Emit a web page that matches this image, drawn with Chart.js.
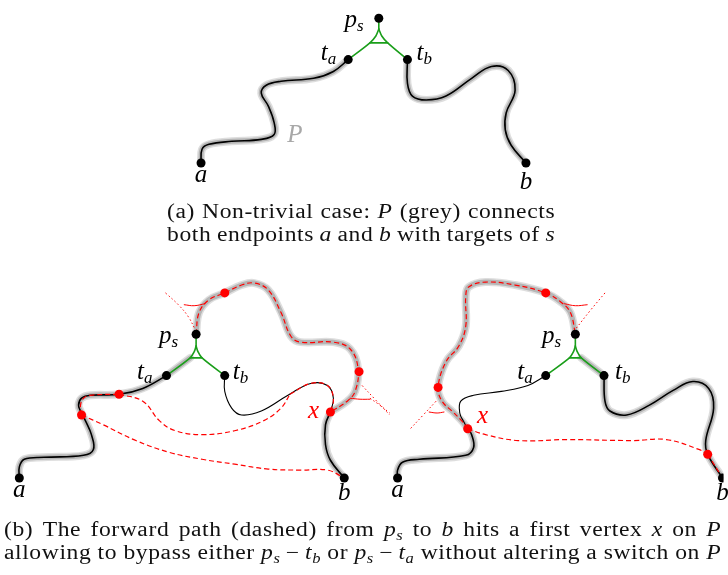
<!DOCTYPE html>
<html><head><meta charset="utf-8">
<script src="https://cdn.jsdelivr.net/npm/chart.js@4"></script>
<style>
html,body{margin:0;padding:0;background:#fff;}
#wrap{position:relative;width:728px;height:575px;overflow:hidden;}
canvas{position:absolute;left:0;top:0;}
.cap{position:absolute;font-family:"Liberation Serif",serif;font-size:20px;color:#111;line-height:22.5px;letter-spacing:0.5px;transform:scaleX(1.18);transform-origin:0 0;}
.cap > div{display:flex;justify-content:space-between;white-space:nowrap;}
.cap i{font-style:italic;}
.cap sub{font-size:14px;vertical-align:-4px;line-height:0;}
</style></head>
<body><div id="wrap"><canvas id="c" width="728" height="575"></canvas>
<div class="cap" style="left:167px;top:200px;width:329px;">
<div><span>(a)</span><span>Non-trivial</span><span>case:</span><span><i>P</i></span><span>(grey)</span><span>connects</span></div>
<div><span>both</span><span>endpoints</span><span><i>a</i></span><span>and</span><span><i>b</i></span><span>with</span><span>targets</span><span>of</span><span><i>s</i></span></div>
</div>
<div class="cap" style="left:4px;top:518px;width:608px;">
<div><span>(b)</span><span>The</span><span>forward</span><span>path</span><span>(dashed)</span><span>from</span><span><i>p</i><sub><i>s</i></sub></span><span>to</span><span><i>b</i></span><span>hits</span><span>a</span><span>first</span><span>vertex</span><span><i>x</i></span><span>on</span><span><i>P</i></span></div>
<div><span>allowing</span><span>to</span><span>bypass</span><span>either</span><span><i>p</i><sub><i>s</i></sub>&thinsp;−&thinsp;<i>t</i><sub><i>b</i></sub></span><span>or</span><span><i>p</i><sub><i>s</i></sub>&thinsp;−&thinsp;<i>t</i><sub><i>a</i></sub></span><span>without</span><span>altering</span><span>a</span><span>switch</span><span>on</span><span><i>P</i></span></div>
</div>
</div>
<script>
// ---------- Panel (a) ----------
const aPathLeft = [[199,161],[200,147],[207,142],[230,139],[260,137],[273,132],[273,120],[267,103],[260,90],[265,82],[280,78],[313,75],[333,68],[348,56]];
const aPathRight = [[408,56],[408,80],[413,93],[427,97],[447,93],[473,75],[493,63],[510,67],[517,87],[508,110],[507,127],[513,143],[528,161]];
const aSwitchLeft = [[348,56],[370,39],[376,32],[379,25]];
const aSwitchRight = [[408,56],[388,39],[382,32],[379,25]];
const aSwitchStem = [[379,14],[379,25]];
const aSwitchBar = [[370,39],[388,39]];
const aVertices = [[379,14],[348,56],[408,56],[199,161],[528,161]];

// ---------- Panel (b), left ----------
const bLPathA = [[15,481],[15,470],[20,462],[40,460],[80,458],[90,452],[88,437],[82,423],[77,413],[75,407],[78,400],[87,397],[116,396],[140,390],[164,377]];
const bLLoop = [[194,335],[197,313],[207,300],[223,293],[240,285],[253,283],[267,290],[280,313],[290,337],[300,343],[333,343],[350,350],[358,370],[355,393],[347,403],[330,414]];
const bLXtoB = [[330,414],[325,427],[325,447],[330,463],[344,481]];
const bLTb = [[223,377],[223,393],[230,410],[240,417],[260,413],[287,397],[310,385],[327,387],[333,400],[330,414]];
const bLFwd1 = [[116,396],[140,403],[157,423],[173,433],[200,437],[233,433],[262,423],[280,410],[289,396]];
const bLFwd1b = [[289,396],[310,385],[327,387],[333,400],[330,414]];
const bLFwd2 = [[78,417],[100,427],[133,443],[167,455],[200,462],[233,467],[267,472],[300,473],[327,473],[344,481]];
const bLFwdP = [[78,417],[77,407],[80,400],[87,397],[116,396]];
const bLDot1 = [[163,293],[176,305],[186,317],[193,330]];
const bLDot2 = [[362,387],[376,402],[390,417]];
const bLMark1 = [[182,305],[192,306],[203,304]];
const bLMark2 = [[350,400],[360,401],[370,401]];
const bLSwitchLeft = [[164,377],[188,359],[192,353],[194,347]];
const bLSwitchRight = [[223,377],[200,359],[196,353],[194,347]];
const bLSwitchStem = [[194,335],[194,347]];
const bLSwitchBar = [[188,359],[200,359]];
const bLVertices = [[194,335],[164,377],[223,377],[15,481],[344,481]];
const bLRed = [[223,293],[359,373],[116,396],[78,417],[330,414]];

// ---------- Panel (b), right ----------
const bRPathA = [[398,481],[398,473],[403,465],[420,462],[467,458],[475,450],[473,437],[469,431]];
const bRLoop = [[469,431],[463,423],[453,413],[443,403],[439,389],[447,363],[460,347],[467,327],[467,297],[470,287],[487,282],[517,285],[548,293],[563,302],[573,313],[578,335]];
const bRPathB = [[607,377],[608,403],[613,413],[630,417],[653,407],[677,392],[697,383],[713,390],[718,410],[710,443],[712,457],[727,481]];
const bRTa = [[548,377],[530,387],[503,393],[475,397],[462,403],[461,415],[465,424],[469,431]];
const bRFwd = [[469,431],[487,437],[520,443],[570,442],[637,443],[670,442],[703,452],[712,457]];
const bRFwdEnd = [[712,457],[727,481]];
const bRDot1 = [[608,293],[593,311],[578,330]];
const bRDot2 = [[370,400],[380,407],[390,415]];
const bRDot3 = [[437,403],[424,417],[410,432]];
const bRMark1 = [[567,304],[578,306],[590,305]];
const bRMark2 = [[430,414],[438,415],[445,414]];
const bRSwitchLeft = [[548,377],[572,359],[576,353],[578,347]];
const bRSwitchRight = [[607,377],[584,359],[580,353],[578,347]];
const bRSwitchStem = [[578,335],[578,347]];
const bRSwitchBar = [[572,359],[584,359]];
const bRVertices = [[578,335],[548,377],[607,377],[398,481],[727,481]];
const bRRed = [[548,293],[439,389],[712,457],[469,431]];

// ---------- Labels ----------
const labelText = [
  ['p','s',354,16,'k'],['t','a',328,50,'k'],['t','b',425,50,'k'],['P','',294,133,'g'],['a','',199,174,'k'],['b','',528,181,'k'],
  ['p','s',166,337,'k'],['t','a',142,374,'k'],['t','b',239,374,'k'],['x','',313,413,'r'],['a','',15,494,'k'],['b','',344,497,'k'],
  ['p','s',554,337,'k'],['t','a',527,374,'k'],['t','b',626,374,'k'],['x','',484,418,'r'],['a','',398,494,'k'],['b','',727,497,'k']
];

const HALO_OUT='rgba(195,195,195,0.55)', HALO_IN='rgba(165,165,165,0.7)', BLACK='#000', RED='#f00', GREEN='#1a9e1a';
const pts = arr => arr.map(p=>({x:p[0],y:p[1]}));
const ds = [];
function line(arr, color, width, opts={}) {
  ds.push(Object.assign({data:pts(arr),showLine:true,borderColor:color,borderWidth:width,pointRadius:0,tension:0.4,fill:false,borderCapStyle:'round',borderJoinStyle:'round'},opts));
}
const haloPaths=[aPathLeft,aPathRight,bLPathA,bLLoop,bLXtoB,bRPathA,bRLoop,bRPathB];
// halos
haloPaths.forEach(a=>line(a,HALO_OUT,8,{order:12}));
haloPaths.forEach(a=>line(a,HALO_IN,5,{order:11}));
[bLSwitchLeft,bRSwitchRight].forEach(a=>{line(a.slice(0,2),HALO_OUT,8,{order:12,tension:0});line(a.slice(0,2),HALO_IN,5,{order:11,tension:0});});
// black paths
[aPathLeft,aPathRight,bLPathA,bLXtoB,bRPathA,bRPathB].forEach(a=>line(a,BLACK,1.6,{order:8}));
[bLTb,bRTa].forEach(a=>line(a,BLACK,1.1,{order:8}));
// red dashed
[bLLoop,bRLoop,bLFwd1,bLFwd1b,bLFwd2,bLFwdP,bRFwd,bRFwdEnd].forEach(a=>line(a,RED,1.2,{order:6,borderDash:[5,3],borderCapStyle:'butt'}));
[bLDot1,bLDot2,bRDot1,bRDot2,bRDot3].forEach(a=>line(a,RED,1,{order:6,borderDash:[1.5,2.5],borderCapStyle:'butt'}));
[bLMark1,bLMark2,bRMark1,bRMark2].forEach(a=>line(a,RED,1,{order:6,tension:0.4}));
// green switches
[aSwitchLeft,aSwitchRight,bLSwitchLeft,bLSwitchRight,bRSwitchLeft,bRSwitchRight].forEach(a=>line(a,GREEN,1.6,{order:4,tension:0.3}));
[aSwitchStem,aSwitchBar,bLSwitchStem,bLSwitchBar,bRSwitchStem,bRSwitchBar].forEach(a=>line(a,GREEN,1.6,{order:4,tension:0}));
// vertices
[aVertices,bLVertices,bRVertices].forEach(a=>ds.push({data:pts(a),showLine:false,pointRadius:4.5,pointBackgroundColor:BLACK,pointBorderWidth:0,order:2}));
[bLRed,bRRed].forEach(a=>ds.push({data:pts(a),showLine:false,pointRadius:4.5,pointBackgroundColor:RED,pointBorderWidth:0,order:1}));

const labelPlugin = {
  id:'labels',
  afterDatasetsDraw(chart){
    const ctx=chart.ctx, xs=chart.scales.x, ys=chart.scales.y;
    const big='italic 25px "Liberation Serif", serif', small='italic 17px "Liberation Serif", serif';
    ctx.save();
    ctx.textBaseline='middle';
    labelText.forEach(([m,s,x,y,k])=>{
      const px=xs.getPixelForValue(x), py=ys.getPixelForValue(y);
      ctx.fillStyle = k==='r'?RED:(k==='g'?'#a8a8a8':'#000');
      ctx.font=big; const w1=ctx.measureText(m).width;
      ctx.font=small; const w2=s?ctx.measureText(s).width:0;
      const x0=px-(w1+w2)/2;
      ctx.font=big; ctx.fillText(m,x0,py);
      if(s){ctx.font=small;ctx.fillText(s,x0+w1,py+6);}
    });
    ctx.restore();
  }
};

new Chart(document.getElementById('c'),{
  type:'scatter',
  data:{datasets:ds},
  options:{
    responsive:false,animation:false,
    layout:{padding:0},
    plugins:{legend:{display:false},tooltip:{enabled:false}},
    scales:{
      x:{type:'linear',min:0,max:728,display:false},
      y:{type:'linear',min:0,max:575,reverse:true,display:false}
    }
  },
  plugins:[labelPlugin]
});
</script>
</body></html>
